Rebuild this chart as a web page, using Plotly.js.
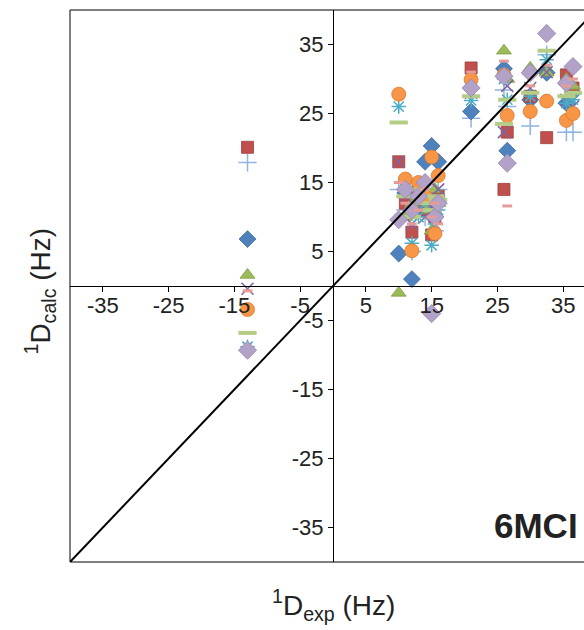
<!DOCTYPE html>
<html>
<head>
<meta charset="utf-8">
<script src="https://cdn.plot.ly/plotly-3.0.1.min.js"></script>
<style>
html,body{margin:0;padding:0;overflow:hidden;background:#fff;}
#chart{width:620px;height:630px;}
</style>
</head>
<body>
<div id="chart"></div>
<script>
// Experimental 1D RDCs (Hz), shared by every model series
const dExp = [-13, 10, 11, 12, 13, 14, 15, 15.5, 16, 21, 26, 26.5, 30, 32.5, 35.5, 36.5];

// Calculated 1D RDCs (Hz) for each series
const calcBlueDiamond   = [6.8, 4.7, 13.5, 1, 12, 18, 20.3, 12, 18, 25.3, 31.5, 19.6, 27, 30.9, 26.5, 28];
const calcRedSquare     = [20.1, 18, 12, 7.8, 14, 11, 7.4, 10, 13, 31.6, 14, 22.3, 27.5, 21.5, 30.6, 28.7];
const calcGreenTriangle = [1.6, -1, 10, 12, 13, 11, 8, 14, 12, 29, 34.1, 30, 31.6, 30.9, 30, 29];
const calcPurpleX       = [-0.4, 18, 13, 9, 12, 10, 15, 11, 14, 28, 22.3, 29, 28.7, 31, 27, 26];
const calcCyanStar      = [-8.8, 26, 14, 6.2, 10, 12, 5.9, 9, 11, 26.9, 30, 27, 27.5, 32.8, 26.5, 27];
const calcOrangeCircle  = [-3.4, 27.8, 15.5, 5.1, 15, 13, 18.7, 7.6, 16, 29.9, 30.6, 24.7, 25.3, 26.8, 24, 25];
const calcBluePlus      = [17.9, 14, 11, 5, 12, 10, 13, 8, 14, 24.3, 28.4, 26, 23.2, 33.5, 22.3, 22.3];
const calcGreenDash     = [-6.8, 23.7, 13, 10, 14, 12, 11, 13, 12.5, 27.5, 23.5, 27, 28, 34.1, 27.5, 28];
const calcLilacDiamond  = [-9.3, 9.6, 14, 11, 13, 15, -4, 10, 12, 28.7, 30.4, 17.8, 30.9, 36.6, 29.4, 31.8];
const calcRedDash       = [-0.7, 15, 12, 9, 11, 14, 10, 12, 9, 31, 32.6, 11.6, 29, 32, 29, 30];

const tickVals = [-35, -25, -15, -5, 5, 15, 25, 35];
const tickText = ['-35', '-25', '-15', '-5', '5', '15', '25', '35'];

function series(y, marker){
  return {x: dExp, y: y, type: 'scatter', mode: 'markers', marker: marker, showlegend: false, hoverinfo: 'x+y'};
}

const traces = [
  series(calcBluePlus,      {symbol: 'cross-thin-open', size: 13, color: '#8FB4DE', line: {color: '#8FB4DE', width: 1.5}}),
  series(calcBlueDiamond,   {symbol: 'diamond', size: 13, color: '#4F81BD', line: {color: '#3C6A9E', width: 0.8}}),
  series(calcRedSquare,     {symbol: 'square', size: 12, color: '#C0504D', line: {color: '#9E3D3A', width: 0.8}}),
  series(calcGreenTriangle, {symbol: 'triangle-up', size: 13, color: '#9BBB59', line: {color: '#7E9C45', width: 0.8}}),
  series(calcPurpleX,       {symbol: 'x-thin-open', size: 12, color: '#8064A2', line: {color: '#8064A2', width: 1.5}}),
  series(calcCyanStar,      {symbol: 'asterisk-open', size: 12, color: '#4BACC6', line: {color: '#4BACC6', width: 1.5}}),
  series(calcOrangeCircle,  {symbol: 'circle', size: 14, color: '#F79646', line: {color: '#D9792B', width: 0.8}}),
  series(calcGreenDash,     {symbol: 'line-ew-open', size: 13, color: '#B4CD86', line: {color: '#B4CD86', width: 4}}),
  series(calcLilacDiamond,  {symbol: 'diamond', size: 14, color: '#B3A2C7', line: {color: '#9885B0', width: 0.8}}),
  series(calcRedDash,       {symbol: 'line-ew-open', size: 7, color: '#E59B98', line: {color: '#E59B98', width: 3}})
];

const tickFont = {family: 'Liberation Sans, Arial, sans-serif', size: 22, color: '#222'};

const layout = {
  width: 620, height: 630,
  margin: {l: 70, r: 24, t: 10, b: 68},
  paper_bgcolor: '#fff', plot_bgcolor: '#fff',
  xaxis: {
    range: [-40, 40], anchor: 'free', position: 0.5,
    showgrid: false, zeroline: false, showline: true, linecolor: '#000', linewidth: 1,
    ticks: 'outside', ticklen: 5, tickcolor: '#000',
    tickmode: 'array', tickvals: tickVals, ticktext: tickText,
    tickfont: tickFont, ticklabelstandoff: -5
  },
  yaxis: {
    range: [-40, 40], anchor: 'free', position: 0.5,
    showgrid: false, zeroline: false, showline: true, linecolor: '#000', linewidth: 1,
    ticks: 'outside', ticklen: 5, tickcolor: '#000',
    tickmode: 'array', tickvals: tickVals, ticktext: tickText,
    tickfont: tickFont
  },
  shapes: [
    {type: 'rect', xref: 'paper', yref: 'paper', x0: 0, x1: 1, y0: 0, y1: 1, line: {color: '#000', width: 1}},
    {type: 'line', xref: 'x', yref: 'y', x0: -40, y0: -40, x1: 40, y1: 40, line: {color: '#000', width: 2}, layer: 'above'}
  ],
  annotations: [
    {text: '<sup>1</sup>D<sub>exp</sub> (Hz)', xref: 'paper', yref: 'paper', x: 0.5, y: 0, yshift: -43, xanchor: 'center', yanchor: 'middle',
     showarrow: false, font: {family: 'Liberation Sans, Arial, sans-serif', size: 28, color: '#222'}},
    {text: '<sup>1</sup>D<sub>calc</sub> (Hz)', xref: 'paper', yref: 'paper', x: 0, xshift: -30, y: 0.49, xanchor: 'center', yanchor: 'middle',
     textangle: -90, showarrow: false, font: {family: 'Liberation Sans, Arial, sans-serif', size: 28, color: '#222'}},
    {text: '<b>6MCI</b>', xref: 'paper', yref: 'paper', x: 0.885, y: 0.067, xanchor: 'center', yanchor: 'middle',
     showarrow: false, font: {family: 'Liberation Sans, Arial, sans-serif', size: 35, color: '#222'}}
  ]
};

Plotly.newPlot('chart', traces, layout, {displayModeBar: false, staticPlot: true});
</script>
</body>
</html>
